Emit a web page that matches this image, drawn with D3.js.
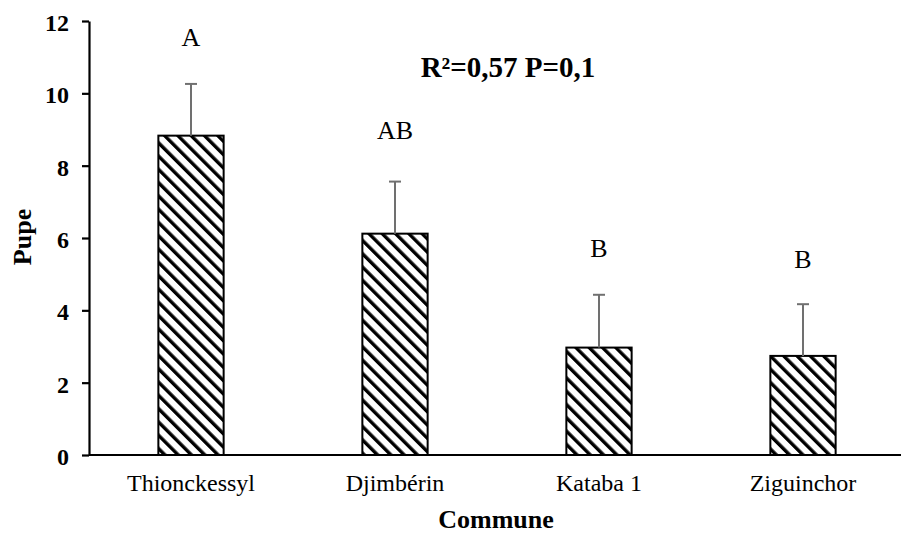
<!DOCTYPE html>
<html>
<head>
<meta charset="utf-8">
<script src="https://cdn.jsdelivr.net/npm/d3@7/dist/d3.min.js"></script>
<style>
  html, body { margin: 0; padding: 0; background: #fff; }
  svg { display: block; }
</style>
</head>
<body>
<svg id="chart" width="905" height="539"></svg>
<script>
// Mean number of pupae per commune, with error bars and significance letters
const communes = ["Thionckessyl", "Djimbérin", "Kataba 1", "Ziguinchor"];
const means = [8.83, 6.12, 2.97, 2.74];
const errors = [1.43, 1.44, 1.46, 1.43];
const groups = ["A", "AB", "B", "B"];
const groupHeights = [11.31, 8.74, 5.48, 5.17];
const yTicks = [0, 2, 4, 6, 8, 10, 12];
const statText = "R²=0,57 P=0,1";

const svg = d3.select("#chart");
const margin = { left: 89, right: 0, top: 21, bottom: 84 };
const W = 905, H = 539;

const x = d3.scaleBand().domain(communes)
  .range([margin.left, W - margin.right])
  .paddingInner(0.68).paddingOuter(0.34);
const y = d3.scaleLinear().domain([0, 12]).range([H - margin.bottom, margin.top]);

// Diagonal hatch fill (lines running top-left to bottom-right)
const defs = svg.append("defs");
const pat = defs.append("pattern")
  .attr("id", "hatch").attr("patternUnits", "userSpaceOnUse")
  .attr("width", 9.4).attr("height", 9.4)
  .attr("patternTransform", "rotate(-45)");
pat.append("rect").attr("width", 9.4).attr("height", 9.4).attr("fill", "#fff");
pat.append("rect").attr("x", 0).attr("y", 0).attr("width", 3.4).attr("height", 9.4).attr("fill", "#000");

const serif = "'Liberation Serif', 'Times New Roman', serif";

// Bars
svg.append("g").selectAll("rect")
  .data(communes)
  .join("rect")
  .attr("x", d => x(d))
  .attr("y", (d, i) => y(means[i]))
  .attr("width", x.bandwidth())
  .attr("height", (d, i) => y(0) - y(means[i]))
  .attr("fill", "url(#hatch)")
  .attr("stroke", "#000")
  .attr("stroke-width", 2);

// Error bars (upper only)
const eb = svg.append("g").attr("stroke", "#707070").attr("stroke-width", 2);
communes.forEach((d, i) => {
  const cx = x(d) + x.bandwidth() / 2;
  eb.append("line").attr("x1", cx).attr("x2", cx)
    .attr("y1", y(means[i])).attr("y2", y(means[i] + errors[i]));
  eb.append("line").attr("x1", cx - 6).attr("x2", cx + 6)
    .attr("y1", y(means[i] + errors[i])).attr("y2", y(means[i] + errors[i]));
});

// Significance letters
svg.append("g").selectAll("text")
  .data(communes)
  .join("text")
  .attr("x", d => x(d) + x.bandwidth() / 2)
  .attr("y", (d, i) => y(groupHeights[i]))
  .attr("text-anchor", "middle")
  .attr("font-family", serif)
  .attr("font-size", 26)
  .text((d, i) => groups[i]);

// Y axis
const yAxis = svg.append("g")
  .attr("transform", `translate(${margin.left},0)`)
  .call(d3.axisLeft(y).tickValues(yTicks).tickSize(7).tickSizeOuter(0).tickPadding(13));
yAxis.select(".domain").attr("stroke", "#000").attr("stroke-width", 2.2);
yAxis.selectAll(".tick line").attr("stroke", "#000").attr("stroke-width", 2.2);
yAxis.selectAll(".tick text")
  .attr("font-family", serif).attr("font-size", 24).attr("font-weight", "bold").attr("fill", "#000")
  .attr("dy", "0.4em");

// X axis
const xAxis = svg.append("g")
  .attr("transform", `translate(0,${y(0)})`)
  .call(d3.axisBottom(x).tickSize(0));
xAxis.select(".domain").attr("stroke", "#000").attr("stroke-width", 2.2)
  .attr("d", `M${margin.left},0H${W - 4}`);
xAxis.selectAll(".tick text")
  .attr("font-family", serif).attr("font-size", 24).attr("fill", "#000")
  .attr("y", 36).attr("dy", 0);

// Axis titles
svg.append("text")
  .attr("x", 496).attr("y", 528)
  .attr("text-anchor", "middle")
  .attr("font-family", serif).attr("font-size", 26).attr("font-weight", "bold")
  .text("Commune");
svg.append("text")
  .attr("transform", "translate(31,237) rotate(-90)")
  .attr("text-anchor", "middle")
  .attr("font-family", serif).attr("font-size", 26).attr("font-weight", "bold")
  .text("Pupe");

// Model statistics
svg.append("text")
  .attr("x", 508).attr("y", 77)
  .attr("text-anchor", "middle")
  .attr("font-family", serif).attr("font-size", 29).attr("font-weight", "bold")
  .text(statText);
</script>
</body>
</html>
